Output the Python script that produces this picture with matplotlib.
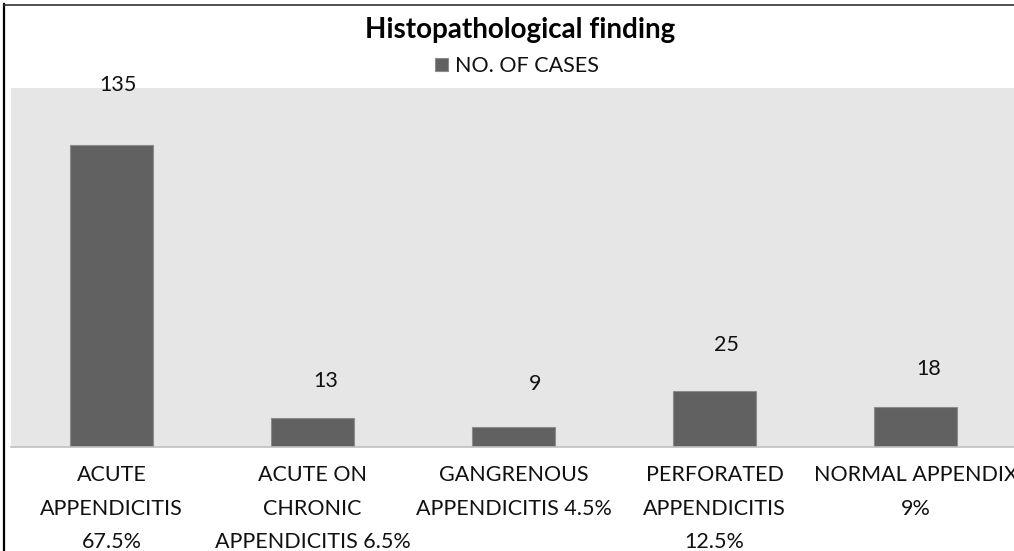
import matplotlib.pyplot as plt
from matplotlib.lines import Line2D

categories = ["ACUTE\nAPPENDICITIS\n67.5%",
              "ACUTE ON\nCHRONIC\nAPPENDICITIS 6.5%",
              "GANGRENOUS\nAPPENDICITIS 4.5%",
              "PERFORATED\nAPPENDICITIS\n12.5%",
              "NORMAL APPENDIX\n9%"]
cases = [135, 13, 9, 25, 18]
# label offsets (pixels) as placed in the original chart
label_dx = [6, 13, 22, 12, 13]
label_dy = [60, 37, 43, 46, 38]

plt.rcParams['font.family'] = ['Lato', 'DejaVu Sans']

W, H = 1014, 551
fig = plt.figure(figsize=(W / 100, H / 100), dpi=100)
ax = fig.add_axes([11 / W, 1 - 447 / H, 1005 / W, (447 - 88) / H])
ax.set_facecolor('#e6e6e6')

x = range(len(cases))
bars = ax.bar(x, cases, width=0.41, color='#616161', edgecolor='#8c8c8c',
              linewidth=0.8, label='NO. OF CASES')
ax.set_xlim(-0.5, 4.5)
ax.set_ylim(0, 160.5)

for b, v, dx, dy in zip(bars, cases, label_dx, label_dy):
    ax.annotate(str(v), (b.get_x() + b.get_width() / 2, v),
                xytext=(dx, dy), textcoords='offset pixels',
                ha='center', va='center', fontsize=15.5, color='#111111',
                annotation_clip=False)

for s in ['left', 'right', 'top']:
    ax.spines[s].set_visible(False)
ax.spines['bottom'].set_color('#bfbfbf')
ax.spines['bottom'].set_linewidth(1.2)
ax.set_yticks([])
ax.set_xticks(list(x), categories)
ax.tick_params(axis='x', length=0, pad=13, labelsize=15.5, labelcolor='#111111')
for t in ax.get_xticklabels():
    t.set_linespacing(1.85)

fig.text(520 / W, 1 - 30 / H, 'Histopathological finding', ha='center', va='center',
         fontsize=20, fontweight='bold', color='#000000')
fig.legend(handles=[bars], labels=['NO. OF CASES'], loc='center',
           bbox_to_anchor=(517 / W, 1 - 66 / H), frameon=False, fontsize=15.5,
           handlelength=0.6, handleheight=0.6, handletextpad=0.3,
           labelcolor='#111111')

# outer chart border (left and top edges visible in the crop)
fig.add_artist(Line2D([3.5 / W, 3.5 / W], [0, 1 - 4 / H], transform=fig.transFigure,
                      color='black', linewidth=1.6))
fig.add_artist(Line2D([3.5 / W, 1], [1 - 4.5 / H, 1 - 4.5 / H], transform=fig.transFigure,
                      color='#333333', linewidth=1.2))

fig.savefig('out.png', dpi=100, facecolor='white')
